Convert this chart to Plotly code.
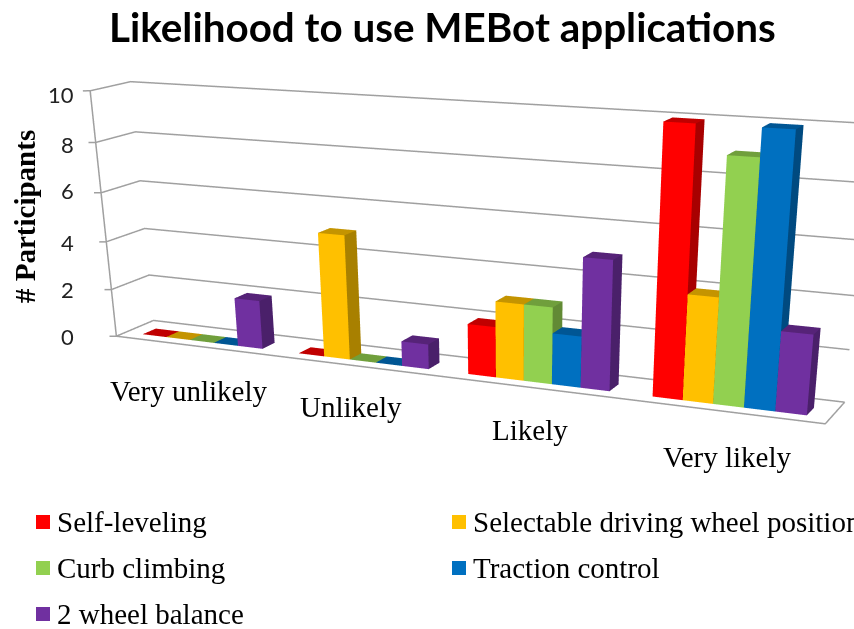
import plotly.graph_objects as go

categories = ["Very unlikely", "Unlikely", "Likely", "Very likely"]
series = ["Self-leveling", "Selectable driving wheel position", "Curb climbing", "Traction control", "2 wheel balance"]
self_leveling = [0, 0, 2, 10]
selectable_wheel = [0, 5, 3, 4]
curb_climbing = [0, 0, 3, 9]
traction_control = [0, 0, 2, 10]
wheel_balance = [2, 1, 5, 3]
values = [self_leveling, selectable_wheel, curb_climbing, traction_control, wheel_balance]
ticks = [0, 2, 4, 6, 8, 10]

front = ["#FF0000", "#FFC000", "#92D050", "#0070C0", "#7030A0"]
side = ["#A80000", "#A88000", "#628A35", "#004A80", "#4A206A"]
top = ["#C00000", "#C49400", "#709F3C", "#005694", "#562378"]

GRID = "#A0A0A0"
# The canvas is larger than the window: the reference's vanishing point sits off-centre,
# so the scene has to be centred right of and below the visible area.
FW, FH = 917, 1440
OFF = 8  # body margin of the page
group = 0.7741
depth = (0.2511, 0.6027)
bar_w = group / 5


def box_faces(color_f, color_s, color_t, vals, k):
    xs, ys, zs, i, j, l, cols = [], [], [], [], [], [], []
    for c, v in enumerate(vals):
        x0 = c + (1 - group) / 2 + k * bar_w
        x1 = x0 + bar_w
        n = len(xs)
        for zz in (0, v):
            for yy in depth:
                for xx in (x0, x1):
                    xs.append(xx); ys.append(yy); zs.append(zz)
        # 0-3 bottom, 4-7 top: front, right side, top only
        for a, b, d, col in [(0, 1, 5, color_f), (0, 5, 4, color_f),
                             (1, 3, 7, color_s), (1, 7, 5, color_s),
                             (4, 5, 7, color_t), (4, 7, 6, color_t)]:
            i.append(n + a); j.append(n + b); l.append(n + d); cols.append(col)
    return xs, ys, zs, i, j, l, cols


fig = go.Figure()
for k, name in enumerate(series):
    xs, ys, zs, i, j, l, cols = box_faces(front[k], side[k], top[k], values[k], k)
    fig.add_trace(go.Mesh3d(x=xs, y=ys, z=zs, i=i, j=j, k=l, facecolor=cols, name=name,
                            flatshading=True, hoverinfo="name",
                            lighting=dict(ambient=1, diffuse=0, specular=0, roughness=1, fresnel=0)))

# walls and floor
nc = len(categories)
lx, ly, lz = [], [], []
for t in ticks:
    lx += [-0.035, 0, 0, nc, None]
    ly += [-0.042, 0, 1, 1, None]
    lz += [t, t, t, t, None]
lx += [0, 0, None, 0, nc, nc, None]
ly += [0, 0, None, 0, 0, 1, None]
lz += [0, 10, None, 0, 0, 0, None]
fig.add_trace(go.Scatter3d(x=lx, y=ly, z=lz, mode="lines", line=dict(color=GRID, width=3), hoverinfo="skip"))


def ann(text, px, py, **kw):
    fig.add_annotation(text=text, x=(px - OFF) / FW, y=1 - (py - OFF) / FH, xref="paper", yref="paper",
                       showarrow=False, **kw)


serif = "Liberation Serif"
ann("<b>Likelihood to use MEBot applications</b>", 442, 27, font=dict(family="Lato", size=40.4, color="black"),
    xanchor="center", yanchor="middle")
ann("<b># Participants</b>", 25, 217, font=dict(family=serif, size=29, color="black"), textangle=-90,
    xanchor="center", yanchor="middle")
tick_y = [337, 290, 243, 190, 144, 94]
for t, py in zip(ticks, tick_y):
    ann(str(t), 76, py, font=dict(family="Lato", size=22, color="#222222"), xanchor="right", yanchor="middle")
cat_px = [(189, 391), (351, 407), (530, 430), (727, 457)]
for c, (px, py) in zip(categories, cat_px):
    ann(c, px, py, font=dict(family=serif, size=29, color="black"), xanchor="center", yanchor="middle")
legend_px = [(36, 522), (452, 522), (36, 568), (452, 568), (36, 614)]
for k, (name, (px, py)) in enumerate(zip(series, legend_px)):
    fig.add_shape(type="rect", x0=(px - OFF) / FW, x1=(px + 14 - OFF) / FW,
                  y0=1 - (py + 7 - OFF) / FH, y1=1 - (py - 7 - OFF) / FH,
                  xref="paper", yref="paper", fillcolor=front[k], line_width=0)
    ann(name, px + 19, py, font=dict(family=serif, size=29, color="black"), xanchor="left", yanchor="middle")

hidden = dict(visible=False, showgrid=False, zeroline=False, showspikes=False)
fig.update_layout(
    width=FW, height=FH, margin=dict(l=0, r=0, t=0, b=0), showlegend=False,
    paper_bgcolor="white",
    scene=dict(
        domain=dict(x=[0, 1], y=[0, 1]),
        xaxis=dict(range=[-0.1, 4.1], **hidden),
        yaxis=dict(range=[-0.1, 1.1], **hidden),
        zaxis=dict(range=[-0.2, 10.2], **hidden),
        aspectmode="manual",
        aspectratio=dict(x=1.05, y=0.0911 * 1.2, z=0.3229 * 1.04),
        camera=dict(eye=dict(x=0.9565, y=-2.002, z=0.4789),
                    center=dict(x=0.0974, y=-0.1879, z=-0.581),
                    up=dict(x=-0.1879, y=0.4276, z=0.8842)),
    ),
)
# let the page run to the window's right edge so the long legend entry is cut there
fig.write_html("out.html", post_script="document.body.style.marginRight='0';document.documentElement.style.overflow='hidden';")
